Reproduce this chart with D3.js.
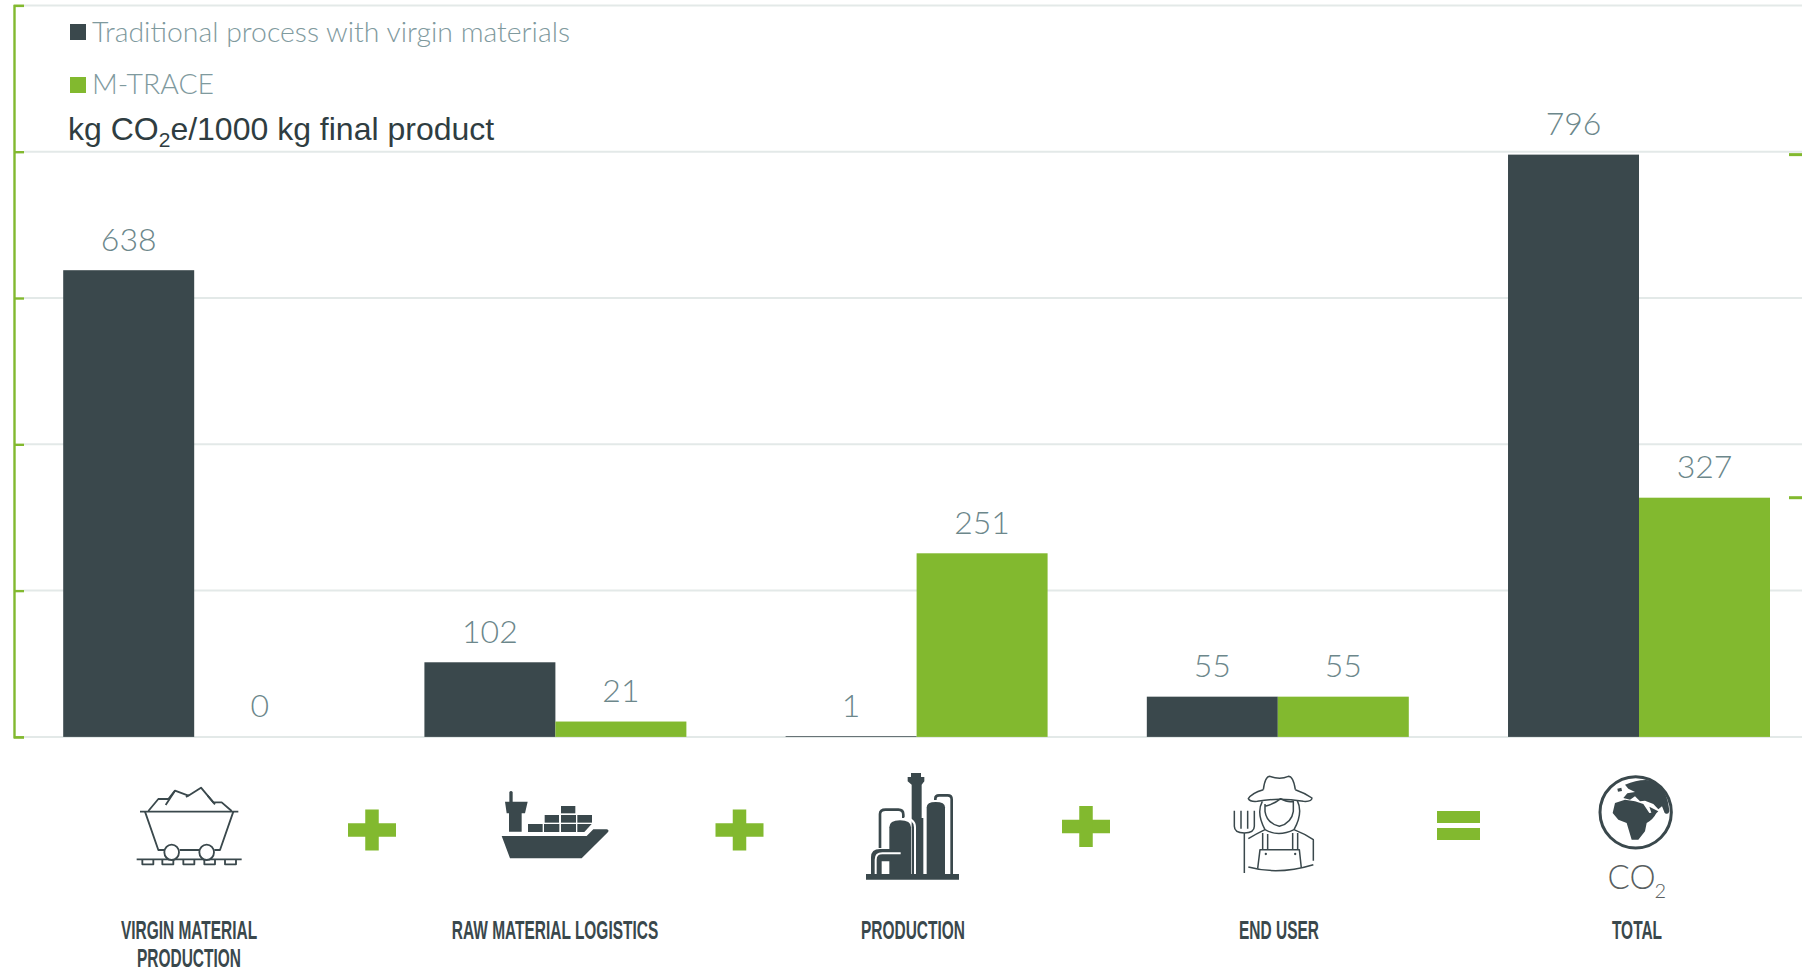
<!DOCTYPE html>
<html>
<head>
<meta charset="utf-8">
<script src="https://cdn.jsdelivr.net/npm/d3@7/dist/d3.min.js"></script>
<style>
html,body{margin:0;padding:0;background:#fff;overflow:hidden}
svg{display:block}
.soft{font-family:Lato,sans-serif;font-weight:300}
</style>
</head>
<body>
<svg id="chart" width="1802" height="973"></svg>
<script>
// Emissions per stage, kg CO2e per 1000 kg of final product
const stages = ["virgin", "logistics", "production", "enduser", "total"];
const traditional = [638, 102, 1, 55, 796];
const mtrace = [0, 21, 251, 55, 327];
const seriesNames = ["Traditional process with virgin materials", "M-TRACE"];
const yTicks = [0, 200, 400, 600, 800, 1000];
const stageLabels = [["VIRGIN MATERIAL", "PRODUCTION"], ["RAW MATERIAL LOGISTICS"], ["PRODUCTION"], ["END USER"], ["TOTAL"]];

const DARK = "#3a484c", GREEN = "#82b92f", GRID = "#e3e9e8", LABEL = "#6c878b", LEGEND = "#7f9a9e";
const svg = d3.select("#chart");

const y = d3.scaleLinear().domain([0, 1000]).range([736.9, 5.4]);
const x0 = d3.scaleBand().domain(stages).range([63.2, 1770]).paddingInner(0.2747).paddingOuter(0);
const x1 = d3.scaleBand().domain([0, 1]).range([0, x0.bandwidth()]);

// Gridlines
svg.append("g").selectAll("line").data(yTicks).join("line")
  .attr("x1", 24).attr("x2", 1802)
  .attr("y1", d => y(d)).attr("y2", d => y(d))
  .attr("stroke", GRID).attr("stroke-width", 2);

// Green axis with ticks pointing into the plot
const axis = svg.append("g").attr("transform", "translate(14,0)")
  .call(d3.axisRight(y).tickValues(yTicks).tickSize(10).tickFormat(""));
axis.selectAll("path").attr("stroke", GREEN).attr("stroke-width", 2.4);
axis.selectAll("line").attr("stroke", GREEN).attr("stroke-width", 2.4);

// Bars and their value labels
[traditional, mtrace].forEach((values, s) => {
  const fill = s === 0 ? DARK : GREEN;
  svg.append("g").selectAll("rect").data(values).join("rect")
    .attr("x", (d, i) => x0(stages[i]) + x1(s))
    .attr("width", x1.bandwidth())
    .attr("y", d => y(d))
    .attr("height", d => y(0) - y(d))
    .attr("fill", fill);
  svg.append("g").selectAll("text").data(values).join("text")
    .attr("class", "soft")
    .attr("x", (d, i) => x0(stages[i]) + x1(s) + x1.bandwidth() / 2)
    .attr("y", d => y(d) - 19.5)
    .attr("text-anchor", "middle")
    .attr("font-size", 32)
    .attr("fill", LABEL)
    .text(d => d);
});

// Short green marks at the right edge, level with the two totals
svg.append("g").selectAll("line").data([traditional[4], mtrace[4]]).join("line")
  .attr("x1", 1789).attr("x2", 1802)
  .attr("y1", d => y(d)).attr("y2", d => y(d))
  .attr("stroke", GREEN).attr("stroke-width", 3);

// Legend
const legend = svg.append("g");
seriesNames.forEach((name, i) => {
  const top = [24, 77][i];
  legend.append("rect").attr("x", 70).attr("y", top).attr("width", 16).attr("height", 16)
    .attr("fill", i === 0 ? DARK : GREEN);
  legend.append("text").attr("class", "soft")
    .attr("x", 92).attr("y", [42, 94][i])
    .attr("font-size", 28.4).attr("fill", LEGEND).text(name);
});

// Unit caption
const unit = svg.append("text").attr("x", 68).attr("y", 140)
  .attr("font-family", "'Liberation Sans',sans-serif").attr("font-size", 32).attr("fill", "#2f3d41");
unit.append("tspan").text("kg CO");
unit.append("tspan").attr("font-size", 21).attr("dy", 7).text("2");
unit.append("tspan").attr("dy", -7).text("e/1000 kg final product");

// Stage names under the icons
const captionX = [189, 555, 913, 1279, 1637];
stageLabels.forEach((lines, i) => {
  lines.forEach((line, j) => {
    svg.append("text")
      .attr("transform", `translate(${captionX[i]},${939 + j * 28}) scale(0.595,1)`)
      .attr("text-anchor", "middle")
      .attr("font-family", "'Liberation Sans Narrow','Liberation Sans',sans-serif")
      .attr("font-weight", 700).attr("font-size", 26)
      .attr("fill", DARK).text(line);
  });
});

// Operators between the icons
function plus(cx, cy, w, h, t) {
  const g = svg.append("g").attr("fill", GREEN);
  g.append("rect").attr("x", cx - w / 2).attr("y", cy - t / 2).attr("width", w).attr("height", t);
  g.append("rect").attr("x", cx - t / 2).attr("y", cy - h / 2).attr("width", t).attr("height", h);
}
plus(372, 830, 48, 41, 13.5);
plus(739.5, 830, 48, 41, 13.5);
plus(1086, 826.5, 48, 41, 13.5);
svg.append("rect").attr("x", 1437).attr("y", 811).attr("width", 43).attr("height", 12).attr("fill", GREEN);
svg.append("rect").attr("x", 1437).attr("y", 828).attr("width", 43).attr("height", 12).attr("fill", GREEN);

// Icons are drawn on a 3-per-pixel grid
function icon(ox, oy) {
  return svg.append("g").attr("transform", `translate(${ox},${oy}) scale(${1 / 3})`);
}
function strokes(g, paths, w) {
  g.append("g").attr("fill", "none").attr("stroke", DARK).attr("stroke-width", w)
    .attr("stroke-linejoin", "round")
    .selectAll("path").data(paths).join("path").attr("d", d => d);
}
function fills(g, paths, color) {
  g.append("g").attr("fill", color || DARK)
    .selectAll("path").data(paths).join("path").attr("d", d => d);
}

// Mine cart
const cart = icon(125, 775);
strokes(cart, [
  "M45,110H340",
  "M60,110L100,225H118M164,225H222M268,225H285L325,110",
  "M70,108L100,72H130L150,47L190,62L228,38L265,82H290L320,108",
  "M122,90L150,47M183,66L192,60M248,62L270,88",
  "M35,253H350",
  "M52,255V268H85V255M112,255V268H145V255M175,255V268H208V255M238,255V268H270V255M300,255V268H333V255"
], 5.5);
cart.append("g").attr("fill", "#fff").attr("stroke", DARK).attr("stroke-width", 5.5)
  .selectAll("ellipse").data([140, 245]).join("ellipse")
  .attr("cx", d => d).attr("cy", 232).attr("rx", 22).attr("ry", 23);

// Container ship
const ship = icon(490, 780);
fills(ship, [
  "M58,36Q63,30 68,36V65H113L105,100H95V155H57V100H50L45,65H58Z",
  "M114,132H158V156H114Z", "M162,132H208V156H162Z", "M213,132H258V156H213Z", "M262,132H305L283,156H262Z",
  "M164,105H207V128H164Z", "M213,105H258V128H213Z", "M262,105H306V128H262Z",
  "M213,78H256V100H213Z",
  "M35,168H290L310,148H350Q360,150 352,158L275,235H60Z"
]);

// Refinery
const plant = icon(855, 768);
fills(plant, [
  "M33,318H312V335H33Z",
  "M168,15H198V27H208V40L200,50V318H170V50L158,40V27H168Z",
  "M215,318V118Q215,102 242,102Q270,102 270,118V318Z",
  "M103,318V178Q103,157 135,157Q168,157 168,178V318Z",
  "M48,318V268Q48,243 75,243H110V280H80V318Z",
  "M176,318H205V150H176Z"
]);
strokes(plant, [
  "M75,240V138Q75,125 92,125H130Q145,125 145,140V150",
  "M241,96V92Q241,82 252,82H278Q290,82 290,94V318"
], 8);
plant.append("g").attr("fill", "none").attr("stroke", "#fff").attr("stroke-width", 6)
  .selectAll("path").data([
    "M148,150Q180,152 180,178V318",
    "M62,318V275Q62,256 82,256H137"
  ]).join("path").attr("d", d => d);

// Farmer with pitchfork
const farmer = icon(1220, 768);
strokes(farmer, [
  "M130,65Q135,25 150,25Q180,36 205,25Q220,25 226,65",
  "M130,65Q95,75 85,92Q90,102 112,100Q175,88 250,100Q275,102 276,90Q255,75 226,65",
  "M135,108V130Q140,165 178,175Q215,165 220,130V100Q205,105 182,92Q165,107 135,115",
  "M127,100Q108,135 135,185M232,98Q250,135 222,185",
  "M85,212Q108,198 135,185Q175,208 222,185Q255,198 280,215V278",
  "M85,297Q175,322 280,290",
  "M128,195V245M143,198V245M218,195V245M233,195V245",
  "M113,302L120,245H238L244,300",
  "M43,128V175Q43,195 73,195Q103,195 103,175V128M63,128V182M83,128V182M73,195V315"
], 4.5);
fills(farmer, [
  "M134,258a3.5,3.5 0 1,0 7,0a3.5,3.5 0 1,0 -7,0Z",
  "M222,258a3.5,3.5 0 1,0 7,0a3.5,3.5 0 1,0 -7,0Z"
]);

// Globe with the CO2 mark beneath it
const globe = icon(1590, 768);
globe.append("circle").attr("cx", 137).attr("cy", 133).attr("r", 107)
  .attr("fill", "none").attr("stroke", DARK).attr("stroke-width", 9);
fills(globe, [
  "M105,50Q150,30 190,38Q232,60 238,130Q235,142 224,135L216,115L205,124L190,108L165,98L150,100L135,85L120,95L100,90L112,76L135,72L115,62Z",
  "M75,105L105,95L135,100L160,108L178,135L200,133Q190,155 170,165L165,190L145,215L125,215L110,165L85,155L68,135Z",
  "M82,62L94,59L96,69L84,71Z",
  "M178,116L205,130L188,146Z"
]);
svg.append("text").attr("class", "soft").attr("x", 1607.5).attr("y", 889)
  .attr("font-size", 33).attr("fill", "#5a5f61").text("CO");
svg.append("text").attr("class", "soft").attr("x", 1654.5).attr("y", 898)
  .attr("font-size", 20).attr("fill", "#5a5f61").text("2");
</script>
</body>
</html>
